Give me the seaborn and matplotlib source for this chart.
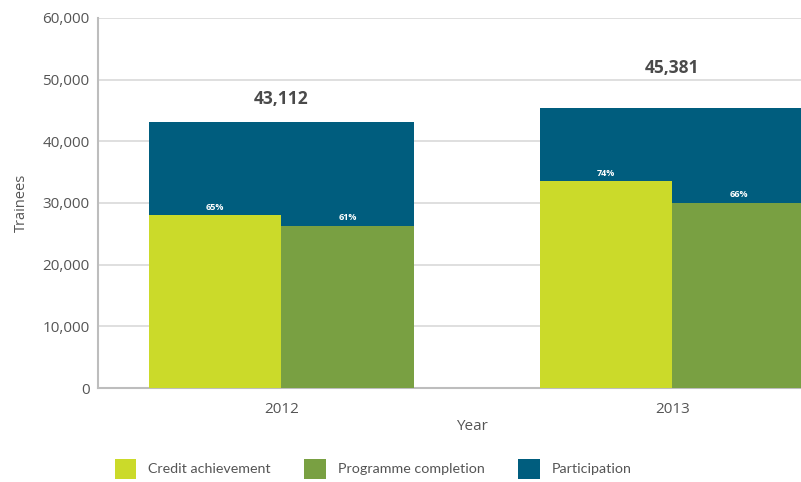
import pandas as pd
import numpy as np
import matplotlib
matplotlib.use("Agg")
import matplotlib.pyplot as plt
import seaborn as sns
from matplotlib.ticker import FuncFormatter
from matplotlib.patches import Patch

years = ["2012", "2013"]
participation = [43112, 45381]
credit = [28020, 33580]
completion = [26300, 29950]
credit_pct = ["65%", "74%"]
completion_pct = ["61%", "66%"]
series_names = ["Credit achievement", "Programme completion", "Participation"]

colors = {"Credit achievement": "#CBDA2A",
          "Programme completion": "#79A042",
          "Participation": "#005D7E"}

sns.set_style("white")
plt.rcParams["font.family"] = ["Open Sans", "DejaVu Sans"]

part_df = pd.DataFrame({"Year": years, "Trainees": participation})
inner_df = pd.DataFrame({
    "Year": years * 2,
    "Trainees": credit + completion,
    "Series": [series_names[0]] * 2 + [series_names[1]] * 2,
})

fig = plt.figure(figsize=(8.01, 4.82), dpi=100)
ax = fig.add_axes([0.1223, 0.195, 0.8777, 0.7677])

w = 0.678
sns.barplot(data=part_df, x="Year", y="Trainees", color=colors["Participation"],
            width=w, saturation=1, linewidth=0, ax=ax, zorder=2)
sns.barplot(data=inner_df, x="Year", y="Trainees", hue="Series",
            palette=[colors[series_names[0]], colors[series_names[1]]],
            width=w, dodge=True, saturation=1, linewidth=0, ax=ax, zorder=3, legend=False)

# totals above participation bars
total_offsets = [17, 29]
for i, v in enumerate(participation):
    ax.annotate(f"{v:,}", (i, v), xytext=(0, total_offsets[i]), textcoords="offset points",
                ha="center", va="center", fontsize=12.5, fontweight="bold", color="#4a4a4a")

# percentage labels above inner bars
for i in range(len(years)):
    ax.annotate(credit_pct[i], (i - w / 4, credit[i]), xytext=(0, 5.5), textcoords="offset points",
                ha="center", va="center", fontsize=6.5, fontweight="bold", color="white", zorder=5)
    ax.annotate(completion_pct[i], (i + w / 4, completion[i]), xytext=(0, 6), textcoords="offset points",
                ha="center", va="center", fontsize=6.5, fontweight="bold", color="white", zorder=5)

ax.set_ylim(0, 60000)
ax.set_yticks(np.arange(0, 60001, 10000))
ax.yaxis.set_major_formatter(FuncFormatter(lambda v, p: f"{int(v):,}"))
ax.set_xlim(-0.469, 1.3286)
ax.yaxis.grid(True, color="#d9d9d9", linewidth=1.2, zorder=0)
ax.set_axisbelow(True)

for s in ["top", "right"]:
    ax.spines[s].set_visible(False)
ax.spines["left"].set_color("#bdbdbd")
ax.spines["bottom"].set_color("#bdbdbd")
ax.spines["left"].set_linewidth(1.5)
ax.spines["bottom"].set_linewidth(1.5)

ax.tick_params(axis="both", length=0, labelsize=11, labelcolor="#555555")
ax.tick_params(axis="y", pad=6)
ax.tick_params(axis="x", pad=10)
ax.set_ylabel("Trainees", fontsize=10.5, color="#555555", labelpad=10)
ax.set_xlabel("Year", fontsize=11, color="#555555")
ax.xaxis.set_label_coords(0.532, -0.085)

# legend in a narrower face, closer to the original's condensed type
handles = [Patch(facecolor=colors[n], edgecolor="none", label=n) for n in series_names]
fig.legend(handles=handles, loc="lower left", bbox_to_anchor=(0.127, -0.02), ncol=3,
           frameon=False, prop={"family": ["Lato", "DejaVu Sans"], "size": 10.3},
           handlelength=1.5, handleheight=1.78,
           handletextpad=0.85, columnspacing=2.35, labelcolor="#555555")

fig.savefig("out.png", dpi=100)
